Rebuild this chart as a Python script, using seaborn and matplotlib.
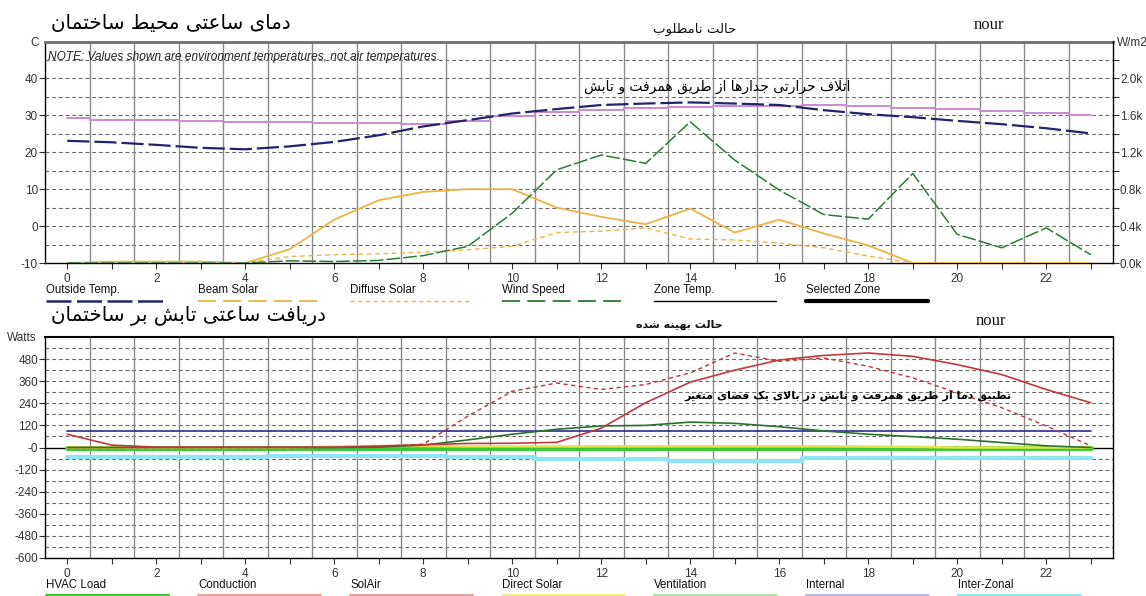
import numpy as np
import pandas as pd
import matplotlib
matplotlib.use("Agg")
import matplotlib.pyplot as plt
import seaborn as sns
from matplotlib.lines import Line2D
from matplotlib.ticker import FixedLocator, FixedFormatter
from matplotlib import font_manager as fm
from matplotlib.ft2font import FT2Font

# ---------------- data ----------------
hours = list(range(24))

# top panel (deg C, left axis)
outside_temp = [23.1, 22.7, 22.0, 21.2, 20.8, 21.6, 22.8, 24.6, 27.0, 28.7, 30.5, 31.7,
                32.8, 33.2, 33.5, 33.2, 32.8, 31.4, 30.3, 29.5, 28.5, 27.6, 26.5, 25.1]
zone_temp = [29.2, 28.7, 28.7, 28.5, 28.1, 28.1, 28.0, 27.8, 27.6, 28.4, 29.8, 30.8,
             31.4, 31.9, 32.3, 32.5, 32.6, 32.7, 32.4, 32.0, 31.6, 31.2, 30.6, 30.0]
# top panel (W/m2, right axis)
beam_solar = [0, 15, 15, 15, 0, 150, 470, 680, 770, 800, 800, 600,
              500, 420, 590, 330, 470, 320, 190, 0, 0, 0, 0, 0]
diffuse_solar = [0, 0, 0, 0, 0, 70, 90, 100, 116, 144, 180, 330,
                 345, 380, 260, 250, 215, 165, 75, 0, 0, 0, 0, 0]
wind_speed = [0, 0, 0, 0, 0, 24, 16, 28, 80, 180, 540, 1010,
              1170, 1080, 1530, 1115, 790, 525, 475, 970, 310, 165, 380, 90]

# bottom panel (Watts)
hvac_load = [0] * 24
conduction = [72, 13, 2, 2, 2, 2, 2, 8, 15, 22, 23, 28,
              105, 243, 355, 420, 475, 500, 513, 495, 450, 396, 315, 243]
solair = [0, 0, 0, 0, 0, 0, 0, 5, 18, 170, 305, 350,
          315, 342, 405, 513, 468, 486, 441, 378, 297, 216, 117, 9]
direct_solar = [0, 0, 0, 0, 0, 0, 5, 8, 8, 6, 6, 6,
                6, 6, 6, 6, 6, 6, 5, 3, 0, 0, 0, 0]
ventilation = [0, 0, 0, 0, 0, 0, 0, 2, 13, 41, 72, 99,
               117, 120, 138, 131, 113, 90, 72, 59, 45, 27, 9, 0]
internal = [90] * 24
inter_zonal = [-54, -54, -54, -54, -54, -45, -45, -45, -45, -54, -54, -63,
               -63, -63, -72, -72, -72, -59, -59, -59, -59, -59, -59, -59]

top_left_ticks = [40, 30, 20, 10, 0, -10]
top_right_ticks = ["0.0k", "0.4k", "0.8k", "1.2k", "1.6k", "2.0k"]
bottom_ticks = [480, 360, 240, 120, 0, -120, -240, -360, -480, -600]
bottom_tick_labels = ["480", "360", "240", "120", "-0", "-120", "-240", "-360", "-480", "-600"]

top_legend = ["Outside Temp.", "Beam Solar", "Diffuse Solar", "Wind Speed", "Zone Temp.", "Selected Zone"]
bottom_legend = ["HVAC Load", "Conduction", "SolAir", "Direct Solar", "Ventilation", "Internal", "Inter-Zonal"]

title_top = "دمای ساعتی محیط ساختمان"
subtitle_top = "حالت نامطلوب"
note_top = "اتلاف حرارتی جدارها از طریق همرفت و تابش"
title_bottom = "دریافت ساعتی تابش بر ساختمان"
subtitle_bottom = "حالت بهینه شده"
note_bottom = "تطبیق دما از طریق همرفت و تابش در بالای یک فضای متغیر"

# ---------------- Arabic shaping (presentation forms) ----------------
DUAL = {
    '\u0628': ('\uFE8F', '\uFE90', '\uFE91', '\uFE92'),
    '\u062A': ('\uFE95', '\uFE96', '\uFE97', '\uFE98'),
    '\u062B': ('\uFE99', '\uFE9A', '\uFE9B', '\uFE9C'),
    '\u062C': ('\uFE9D', '\uFE9E', '\uFE9F', '\uFEA0'),
    '\u062D': ('\uFEA1', '\uFEA2', '\uFEA3', '\uFEA4'),
    '\u062E': ('\uFEA5', '\uFEA6', '\uFEA7', '\uFEA8'),
    '\u0633': ('\uFEB1', '\uFEB2', '\uFEB3', '\uFEB4'),
    '\u0634': ('\uFEB5', '\uFEB6', '\uFEB7', '\uFEB8'),
    '\u0635': ('\uFEB9', '\uFEBA', '\uFEBB', '\uFEBC'),
    '\u0636': ('\uFEBD', '\uFEBE', '\uFEBF', '\uFEC0'),
    '\u0637': ('\uFEC1', '\uFEC2', '\uFEC3', '\uFEC4'),
    '\u0638': ('\uFEC5', '\uFEC6', '\uFEC7', '\uFEC8'),
    '\u0639': ('\uFEC9', '\uFECA', '\uFECB', '\uFECC'),
    '\u063A': ('\uFECD', '\uFECE', '\uFECF', '\uFED0'),
    '\u0641': ('\uFED1', '\uFED2', '\uFED3', '\uFED4'),
    '\u0642': ('\uFED5', '\uFED6', '\uFED7', '\uFED8'),
    '\u0643': ('\uFED9', '\uFEDA', '\uFEDB', '\uFEDC'),
    '\u0644': ('\uFEDD', '\uFEDE', '\uFEDF', '\uFEE0'),
    '\u0645': ('\uFEE1', '\uFEE2', '\uFEE3', '\uFEE4'),
    '\u0646': ('\uFEE5', '\uFEE6', '\uFEE7', '\uFEE8'),
    '\u0647': ('\uFEE9', '\uFEEA', '\uFEEB', '\uFEEC'),
    '\u064A': ('\uFEF1', '\uFEF2', '\uFEF3', '\uFEF4'),
    '\u06CC': ('\uFBFC', '\uFBFD', '\uFBFE', '\uFBFF'),
    '\u06A9': ('\uFB8E', '\uFB8F', '\uFB90', '\uFB91'),
    '\u06AF': ('\uFB92', '\uFB93', '\uFB94', '\uFB95'),
    '\u067E': ('\uFB56', '\uFB57', '\uFB58', '\uFB59'),
    '\u0686': ('\uFB7A', '\uFB7B', '\uFB7C', '\uFB7D'),
}
RIGHT = {
    '\u0627': ('\uFE8D', '\uFE8E'),
    '\u062F': ('\uFEA9', '\uFEAA'),
    '\u0630': ('\uFEAB', '\uFEAC'),
    '\u0631': ('\uFEAD', '\uFEAE'),
    '\u0632': ('\uFEAF', '\uFEB0'),
    '\u0648': ('\uFEED', '\uFEEE'),
    '\u0698': ('\uFB8A', '\uFB8B'),
}

AR_FONT = 'DejaVu Sans'
try:
    _ft = FT2Font(fm.findfont(fm.FontProperties(family=AR_FONT)))
    if _ft.get_char_index(0xFBFC) == 0:
        DUAL['\u06CC'] = ('\uFEEF', '\uFEF0', '\uFEF3', '\uFEF4')
    if _ft.get_char_index(0xFB8E) == 0:
        DUAL['\u06A9'] = DUAL['\u0643']
except Exception:
    pass


def shape(text):
    res = []
    i, n = 0, len(text)
    while i < n:
        c = text[i]
        prev = text[i - 1] if i > 0 else ''
        nxt = text[i + 1] if i + 1 < n else ''
        cp = prev in DUAL
        if c == '\u0644' and nxt == '\u0627':
            res.append('\uFEFC' if cp else '\uFEFB')
            i += 2
            continue
        if c in DUAL:
            cn = (nxt in DUAL) or (nxt in RIGHT)
            f = DUAL[c]
            res.append(f[3] if (cp and cn) else f[1] if cp else f[2] if cn else f[0])
        elif c in RIGHT:
            f = RIGHT[c]
            res.append(f[1] if cp else f[0])
        else:
            res.append(c)
        i += 1
    return ''.join(reversed(res))


# ---------------- figure ----------------
sns.set_theme(style="white")
plt.rcParams['font.family'] = ['Liberation Sans', 'DejaVu Sans']
plt.rcParams['axes.linewidth'] = 1.0

W, H = 1146, 596
fig = plt.figure(figsize=(W / 100, H / 100), dpi=100)
fig.patch.set_facecolor('white')


def fx(px):
    return px / W


def fy(py):
    return 1 - py / H


X0, X1 = 45, 1113
ax1 = fig.add_axes([fx(X0), fy(263), fx(X1) - fx(X0), fy(41.5) - fy(263)])
ax2 = fig.add_axes([fx(X0), fy(558), fx(X1) - fx(X0), fy(337) - fy(558)])

TICK_COLOR = '#333333'
GRID_DASH = dict(color='#6a6a6a', lw=0.8, linestyle=(0, (3.5, 2.5)))
VGRID = dict(color='#8a8a8a', lw=1.0)


def style_axes(ax, ylo, yhi, hgrid_vals):
    ax.set_facecolor('white')
    ax.set_xlim(-0.5, 23.5)
    ax.set_ylim(ylo, yhi)
    for v in hgrid_vals:
        ax.axhline(v, zorder=0.5, **GRID_DASH)
    for h in np.arange(0.5, 23, 1.0):
        ax.axvline(h, zorder=0.6, **VGRID)
    ax.xaxis.set_major_locator(FixedLocator(list(range(0, 24, 2))))
    ax.xaxis.set_minor_locator(FixedLocator(list(range(1, 24, 2))))
    ax.tick_params(axis='x', which='both', direction='out', length=4, width=0.8,
                   color='#333333', labelsize=8.5, labelcolor=TICK_COLOR, pad=3, bottom=True)
    ax.tick_params(axis='y', which='both', direction='out', length=4, width=0.8,
                   color='#333333', labelsize=8.5, labelcolor=TICK_COLOR, pad=1, left=True)
    ax.set_xlabel('')
    ax.set_ylabel('')


def sline(ax, y, color, lw, ls='-', z=3, ds='default'):
    sns.lineplot(x=hours, y=y, ax=ax, color=color, lw=lw, linestyle=ls, zorder=z,
                 drawstyle=ds, legend=False, errorbar=None)


# ----- top panel -----
style_axes(ax1, -10, 50, list(range(-5, 50, 5)))
ax1.yaxis.set_major_locator(FixedLocator(top_left_ticks))
ax1.yaxis.set_major_formatter(FixedFormatter([str(v) for v in top_left_ticks]))
for s in ['left', 'bottom']:
    ax1.spines[s].set_color('black')
    ax1.spines[s].set_linewidth(1.0)
ax1.spines['top'].set_color('#6e6e6e')
ax1.spines['top'].set_linewidth(2.0)
ax1.spines['right'].set_visible(False)

sline(ax1, zone_temp, '#c98bd0', 1.4, '-', z=3, ds='steps-mid')
sline(ax1, outside_temp, '#23236e', 1.6, (0, (10, 2.2)), z=4)

ax1r = ax1.twinx()
ax1r.set_ylim(0, 2400)
ax1r.set_xlim(-0.5, 23.5)
for s in ['left', 'top', 'bottom']:
    ax1r.spines[s].set_visible(False)
ax1r.spines['right'].set_color('black')
ax1r.spines['right'].set_linewidth(1.0)
ax1r.yaxis.set_major_locator(FixedLocator([0, 400, 800, 1200, 1600, 2000]))
ax1r.yaxis.set_major_formatter(FixedFormatter(top_right_ticks))
ax1r.yaxis.set_minor_locator(FixedLocator([200, 600, 1000, 1400, 1800, 2200]))
ax1r.tick_params(axis='y', which='both', direction='out', length=4, width=0.8,
                 color='#333333', labelsize=8.5, labelcolor=TICK_COLOR, pad=1, right=True)
ax1r.grid(False)

sline(ax1r, diffuse_solar, '#e9b64f', 1.0, (0, (3.5, 2.5)), z=3)
sline(ax1r, beam_solar, '#ebb444', 1.3, '-', z=3)
sline(ax1r, wind_speed, '#2f7a35', 1.1, (0, (9, 2)), z=4)
ax1r.set_ylabel('')

# ----- bottom panel -----
style_axes(ax2, -600, 600, [v for v in range(-540, 600, 60) if v != 0])
ax2.yaxis.set_major_locator(FixedLocator(bottom_ticks))
ax2.yaxis.set_major_formatter(FixedFormatter(bottom_tick_labels))
for s in ['left', 'bottom', 'right', 'top']:
    ax2.spines[s].set_color('black')
    ax2.spines[s].set_linewidth(1.0)
ax2.spines['top'].set_linewidth(1.5)
ax2.axhline(0, color='black', lw=1.0, zorder=1)

sline(ax2, inter_zonal, '#8fe6f2', 3.0, '-', z=2, ds='steps-mid')
sline(ax2, hvac_load, '#35c935', 3.5, '-', z=2.5)
sline(ax2, direct_solar, '#e6e24a', 1.8, '-', z=2.6)
sline(ax2, internal, '#2b2b8c', 1.2, '-', z=3)
sline(ax2, ventilation, '#2f6f2f', 1.2, '-', z=3.2)
sline(ax2, conduction, '#c0393f', 1.2, '-', z=3.4)
sline(ax2, solair, '#b8353b', 1.0, (0, (3, 2.5)), z=3.4)

# ----- texts -----
fig.text(fx(35), fy(43), 'C', fontsize=8.5, color=TICK_COLOR, ha='center', va='center')
fig.text(fx(1117), fy(43), 'W/m2', fontsize=8.5, color=TICK_COLOR, ha='left', va='center')
fig.text(fx(22), fy(338), 'Watts', fontsize=8.5, color=TICK_COLOR, ha='center', va='center')
fig.text(fx(48), fy(57), 'NOTE: Values shown are environment temperatures, not air temperatures.',
         fontsize=8.6, style='italic', color='#222222', ha='left', va='center')

fig.text(fx(171), fy(24), shape(title_top), family=AR_FONT, fontsize=14.3, ha='center', va='center', color='black')
fig.text(fx(695), fy(29), shape(subtitle_top), family=AR_FONT, fontsize=9.5, ha='center', va='center', color='#111111')
fig.text(fx(989), fy(25), 'nour', family='Liberation Serif', fontsize=12, ha='center', va='center', color='#111111')
fig.text(fx(717), fy(87), shape(note_top), family=AR_FONT, fontsize=10, ha='center', va='center', color='black')

fig.text(fx(188), fy(316), shape(title_bottom), family=AR_FONT, fontsize=14.3, ha='center', va='center', color='black')
fig.text(fx(679), fy(325), shape(subtitle_bottom), family=AR_FONT, fontsize=8, ha='center', va='center',
         color='#111111', weight='bold')
fig.text(fx(991), fy(321), 'nour', family='Liberation Serif', fontsize=12, ha='center', va='center', color='#111111')
fig.text(fx(848), fy(396), shape(note_bottom), family=AR_FONT, fontsize=8, ha='center', va='center',
         color='black', weight='bold')

# ----- legends -----
top_styles = [('#23236e', 1.8, (0, (10, 2.2))), ('#ebb444', 1.3, (0, (10, 4))),
              ('#e9b64f', 1.0, (0, (3, 2.5))), ('#2f7a35', 1.3, (0, (10, 4))),
              ('black', 1.0, '-'), ('black', 3.0, '-')]
for k, (lab, (col, lw, ls)) in enumerate(zip(top_legend, top_styles)):
    x = 46 + 152 * k
    fig.text(fx(x), fy(290), lab, fontsize=8.3, color='#111111', ha='left', va='center')
    fig.add_artist(Line2D([fx(x), fx(x + 122)], [fy(301), fy(301)], color=col, lw=lw,
                          linestyle=ls, transform=fig.transFigure))

bottom_cols = ['#35c935', '#f0a0a0', '#e8a0a0', '#f3ee8a', '#a8e6a8', '#b8b8f0', '#8fe6f2']
for k, (lab, col) in enumerate(zip(bottom_legend, bottom_cols)):
    x = 46 + 152 * k
    fig.text(fx(x), fy(585), lab, fontsize=8.3, color='#111111', ha='left', va='center')
    fig.add_artist(Line2D([fx(x), fx(x + 122)], [fy(595), fy(595)], color=col, lw=2.2,
                          transform=fig.transFigure))

fig.savefig('out.png', dpi=100, facecolor='white')
